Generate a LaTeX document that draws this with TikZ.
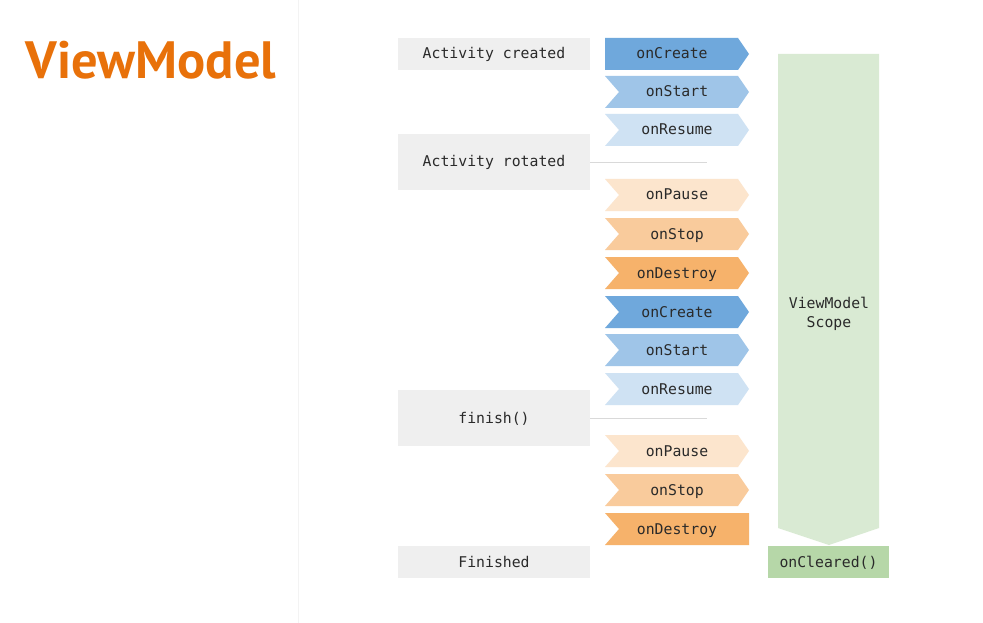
\documentclass[tikz,border=0pt]{standalone}
\usepackage{fontspec}
\setmainfont{DejaVu Sans}
\newfontfamily\titlefont{PT Sans}
\newfontfamily\codefont{DejaVu Sans Mono}
\definecolor{titleorange}{HTML}{E8710A}
\definecolor{boxgray}{HTML}{EFEFEF}
\definecolor{blueA}{HTML}{6FA8DC}
\definecolor{blueB}{HTML}{9FC5E8}
\definecolor{blueC}{HTML}{CFE2F3}
\definecolor{orA}{HTML}{FCE5CD}
\definecolor{orB}{HTML}{F9CB9C}
\definecolor{orC}{HTML}{F6B26B}
\definecolor{greenA}{HTML}{D9EAD3}
\definecolor{greenB}{HTML}{B6D7A8}
\definecolor{txt}{HTML}{2A2A2A}
\definecolor{linegray}{HTML}{D9D9D9}
\definecolor{sepgray}{HTML}{F3F3F3}
\begin{document}
\begin{tikzpicture}[x=1pt,y=-1pt,
  every node/.style={font=\codefont\fontsize{14.8}{18}\selectfont, text=txt, inner sep=0pt},
  graybox/.style={fill=boxgray, minimum width=192pt},
  lbl/.style={anchor=base},
  link/.style={draw=linegray, line width=0.8pt}]
\useasboundingbox (0,0) rectangle (983,623);
\fill[white] (0,0) rectangle (983,623);
\draw[sepgray, line width=1pt] (298,0) -- (298,623);
% title
\node[font=\titlefont\bfseries\fontsize{52.5}{58}\selectfont, text=titleorange, anchor=base west] (title) at (25.5,79) {ViewModel};
% gray boxes
\node[graybox, minimum height=32pt] (created) at (494,54) {};
\node[graybox, minimum height=56pt] (rotated) at (494,162) {};
\node[graybox, minimum height=56pt] (finish) at (494,418) {};
\node[graybox, minimum height=32pt] (finished) at (494,562) {};
\node[lbl] (createdT) at (494,59) {Activity created};
\node[lbl] (rotatedT) at (494,167) {Activity rotated};
\node[lbl] (finishT) at (494,423) {finish()};
\node[lbl] (finishedT) at (494,567) {Finished};
% connectors
\coordinate (rotEnd) at (707,162);
\coordinate (finEnd) at (707,418);
\draw[link] (rotated.east) -- (rotEnd);
\draw[link] (finish.east) -- (finEnd);
% chevrons
\fill[blueA] (605,38) -- (738,38) -- (749,54) -- (738,70) -- (605,70) -- cycle;
\node[lbl] (c1) at (672,59) {onCreate};
\foreach \y/\col/\t/\n in {92/blueB/onStart/c2, 130/blueC/onResume/c3,
  195/orA/onPause/c4, 234/orB/onStop/c5, 273/orC/onDestroy/c6,
  312/blueA/onCreate/c7, 350/blueB/onStart/c8, 389/blueC/onResume/c9,
  451/orA/onPause/c10, 490/orB/onStop/c11}{
  \fill[\col] (605,\y-16) -- (738,\y-16) -- (749,\y) -- (738,\y+16) -- (605,\y+16) -- (619,\y) -- cycle;
  \node[lbl] (\n) at (677,\y+5) {\t};
}
\fill[orC] (605,513) -- (749,513) -- (749,545) -- (605,545) -- (619,529) -- cycle;
\node[lbl] (c12) at (677,534) {onDestroy};
% scope
\fill[greenA] (778,54) -- (879,54) -- (879,528) -- (829,545) -- (778,528) -- cycle;
\node[align=center, font=\codefont\fontsize{14.8}{19.5}\selectfont] (scope) at (829,314) {ViewModel\\Scope};
\node[fill=greenB, minimum width=121pt, minimum height=32pt] (cleared) at (828.5,562) {};
\node[lbl] (clearedT) at (828.5,567) {onCleared()};
\end{tikzpicture}
\end{document}
